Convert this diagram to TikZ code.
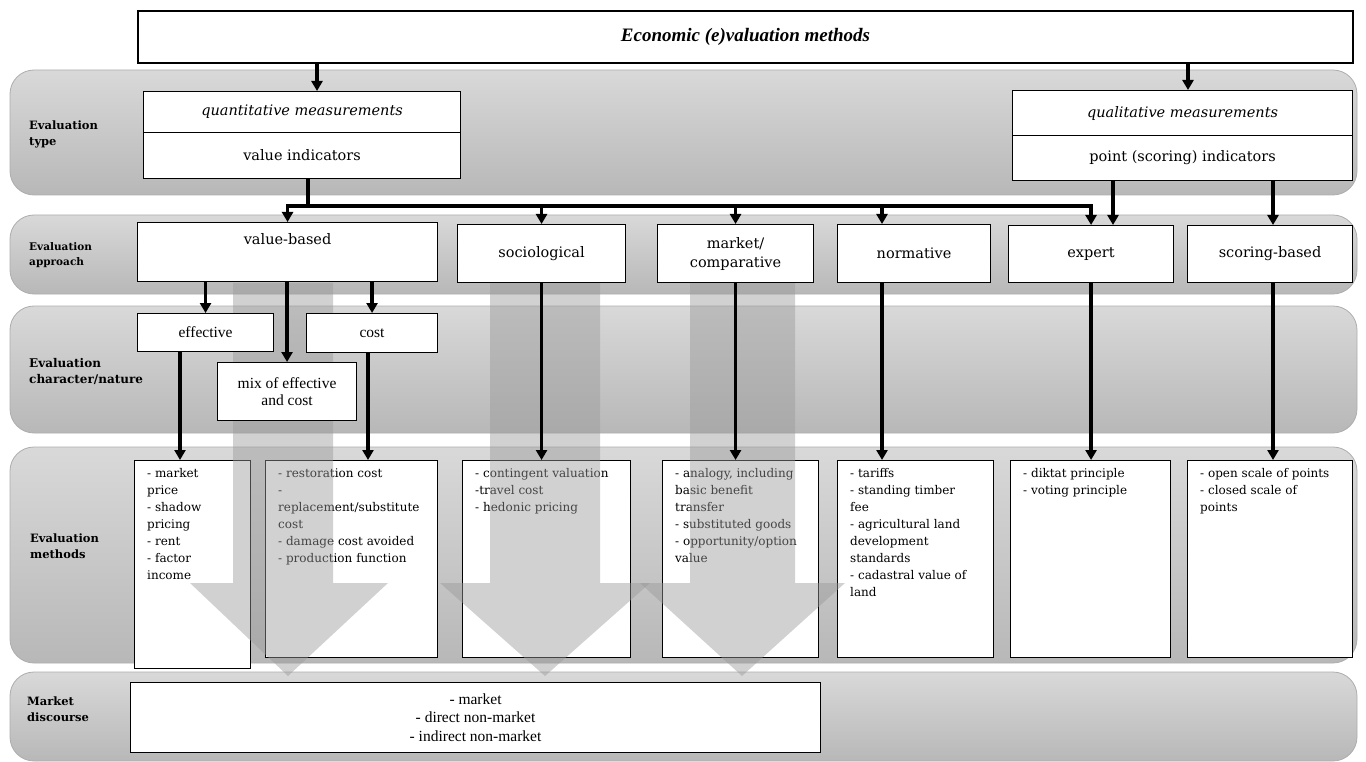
\documentclass[tikz,border=0pt]{standalone}
\usepackage{fontspec}
\setmainfont{Liberation Serif}
\newfontfamily\dejaserif{DejaVu Serif}
\usetikzlibrary{arrows.meta,positioning}

\tikzset{
  band/.style={draw=black!32, line width=0.8pt, rounded corners=24pt,
    top color=black!15, bottom color=black!28},
  bandtext/.style={anchor=west, align=left, inner sep=0pt,
    font=\dejaserif\bfseries\fontsize{11.5}{16}\selectfont},
  box/.style={draw, fill=white, line width=1.1pt, anchor=north west, inner sep=0pt},
  kind/.style={box, align=center, font=\dejaserif\fontsize{14.5}{19}\selectfont},
  nature/.style={box, align=center, font=\fontsize{15.5}{17}\selectfont},
  methtext/.style={anchor=north west, align=left, inner sep=0pt,
    font=\dejaserif\fontsize{12}{17}\selectfont},
  arr/.style={line width=3.2pt, -{Triangle[length=10pt,width=11pt]}},
  link/.style={line width=3.2pt},
  bigarrow/.style={fill=black!40, fill opacity=0.45},
}

\begin{document}
\begin{tikzpicture}[x=1pt, y=-1pt]
\useasboundingbox (0,0) rectangle (1366,762);

% Bands
\path[band] (10,70) rectangle (1357,195);
\path[band] (10,215) rectangle (1357,294);
\path[band] (10,306) rectangle (1357,433);
\path[band] (10,447) rectangle (1357,663);
\path[band] (10,672) rectangle (1357,761);

\node[bandtext] (lt1) at (29,134) {Evaluation\\type};
\node[bandtext, font=\dejaserif\bfseries\fontsize{10.5}{15}\selectfont] (lt2) at (29,255) {Evaluation\\approach};
\node[bandtext, font=\dejaserif\bfseries\fontsize{12}{16}\selectfont] (lt3) at (29,371) {Evaluation\\character/nature};
\node[bandtext] (lt4) at (30,546) {Evaluation\\methods};
\node[bandtext] (lt5) at (27,709) {Market\\discourse};

% Title
\node[box, line width=2pt, minimum width=1215pt, minimum height=52pt,
  font=\bfseries\itshape\fontsize{19}{22}\selectfont] (econ) at (137,10) {Economic (e)valuation methods};

% Evaluation type
\node[kind, minimum width=317pt, minimum height=41pt, font=\dejaserif\itshape\fontsize{14.5}{19}\selectfont] (quant) at (143,91) {quantitative measurements};
\node[kind, minimum width=317pt, minimum height=46pt] (quantval) at (143,132) {value indicators};
\node[kind, minimum width=340pt, minimum height=45pt, font=\dejaserif\itshape\fontsize{14.5}{19}\selectfont] (qual) at (1012,90) {qualitative measurements};
\node[kind, minimum width=340pt, minimum height=45pt] (qualval) at (1012,135) {point (scoring) indicators};

% Evaluation methods
\node[box, minimum width=116pt, minimum height=208pt] (mprice) at (134,460) {};
\node[box, minimum width=172pt, minimum height=197pt] (mcost) at (265,460) {};
\node[box, minimum width=168pt, minimum height=197pt] (msoc) at (462,460) {};
\node[box, minimum width=156pt, minimum height=197pt] (mcomp) at (662,460) {};
\node[box, minimum width=156pt, minimum height=197pt] (mnorm) at (837,460) {};
\node[box, minimum width=160pt, minimum height=197pt] (mexp) at (1010,460) {};
\node[box, minimum width=165pt, minimum height=197pt] (mscore) at (1187,460) {};

\node[methtext] (tprice) at ([shift={(13pt,-8pt)}]mprice.north west) {- market\\price\\- shadow\\pricing\\- rent\\- factor\\income};
\node[methtext] (tcost) at ([shift={(13pt,-8pt)}]mcost.north west) {- restoration cost\\-\\replacement/substitute\\cost\\- damage cost avoided\\- production function};
\node[methtext] (tsoc) at ([shift={(13pt,-8pt)}]msoc.north west) {- contingent valuation\\-travel cost\\- hedonic pricing};
\node[methtext] (tcomp) at ([shift={(13pt,-8pt)}]mcomp.north west) {- analogy, including\\basic benefit\\transfer\\- substituted goods\\- opportunity/option\\value};
\node[methtext] (tnorm) at ([shift={(13pt,-8pt)}]mnorm.north west) {- tariffs\\- standing timber\\fee\\- agricultural land\\development\\standards\\- cadastral value of\\land};
\node[methtext] (texp) at ([shift={(13pt,-8pt)}]mexp.north west) {- diktat principle\\- voting principle};
\node[methtext] (tscore) at ([shift={(13pt,-8pt)}]mscore.north west) {- open scale of points\\- closed scale of\\points};

% Market discourse
\node[box, minimum width=690pt, minimum height=70pt, align=center,
  font=\fontsize{15.5}{18.5}\selectfont] (market) at (130,682) {- market\\- direct non-market\\- indirect non-market};

% Broad arrows
\fill[bigarrow] (233,283) -- (333,283) -- (333,583) -- (388,583) -- (288,676) -- (190,583) -- (233,583) -- cycle;
\fill[bigarrow] (490,283) -- (600,283) -- (600,583) -- (650,583) -- (545,676) -- (440,583) -- (490,583) -- cycle;
\fill[bigarrow] (690,283) -- (795,283) -- (795,583) -- (845,583) -- (742,676) -- (640,583) -- (690,583) -- cycle;

% Evaluation approach
\node[box, minimum width=300pt, minimum height=59pt,
  label={[anchor=north, inner sep=0pt, yshift=-11pt, font=\dejaserif\fontsize{14.5}{19}\selectfont]north:value-based}] (vb) at (137,222) {};
\node[kind, minimum width=168pt, minimum height=58pt] (soc) at (457,224) {sociological};
\node[kind, minimum width=156pt, minimum height=58pt] (mc) at (657,224) {market/\\comparative};
\node[kind, minimum width=153pt, minimum height=58pt] (norm) at (837,224) {normative};
\node[kind, minimum width=165pt, minimum height=57pt] (exp) at (1008,225) {expert};
\node[kind, minimum width=165pt, minimum height=57pt] (score) at (1187,225) {scoring-based};

% Evaluation character
\node[nature, minimum width=136pt, minimum height=38pt] (eff) at (137,313) {effective};
\node[nature, minimum width=131pt, minimum height=39pt] (cost) at (306,313) {cost};
\node[nature, minimum width=139pt, minimum height=58pt] (mix) at (217,362) {mix of effective\\and cost};

% Connectors
\coordinate (qin) at (317,0);
\coordinate (lin) at (1188,0);
\coordinate (fork) at (308,206);
\coordinate (nin) at (882,0);
\coordinate (qexp) at (1113,0);
\coordinate (qscore) at (1273,0);
\coordinate (c1) at (180,0);
\coordinate (c2) at (368,0);

\draw[arr] (econ.south -| qin) -- (quant.north -| qin);
\draw[arr] (econ.south -| lin) -- (qual.north -| lin);
\draw[link] (quantval.south -| fork) -- (fork);
\draw[arr] (fork) -| (vb.north);
\draw[arr] (fork) -| (soc.north);
\draw[arr] (fork) -| (mc.north);
\draw[arr] (fork) -| (norm.north -| nin);
\draw[arr] (fork) -| (exp.north);
\draw[arr] (qualval.south -| qexp) -- (exp.north -| qexp);
\draw[arr] (qualval.south -| qscore) -- (score.north -| qscore);

\draw[arr] (vb.south -| eff.north) -- (eff.north);
\draw[arr] (vb.south -| mix.north) -- (mix.north);
\draw[arr] (vb.south -| cost.north) -- (cost.north);

\draw[arr] (eff.south -| c1) -- (mprice.north -| c1);
\draw[arr] (cost.south -| c2) -- (mcost.north -| c2);
\draw[arr] (soc.south) -- (msoc.north -| soc.south);
\draw[arr] (mc.south) -- (mcomp.north -| mc.south);
\draw[arr] (norm.south -| nin) -- (mnorm.north -| nin);
\draw[arr] (exp.south) -- (mexp.north -| exp.south);
\draw[arr] (score.south -| qscore) -- (mscore.north -| qscore);
\end{tikzpicture}
\end{document}
